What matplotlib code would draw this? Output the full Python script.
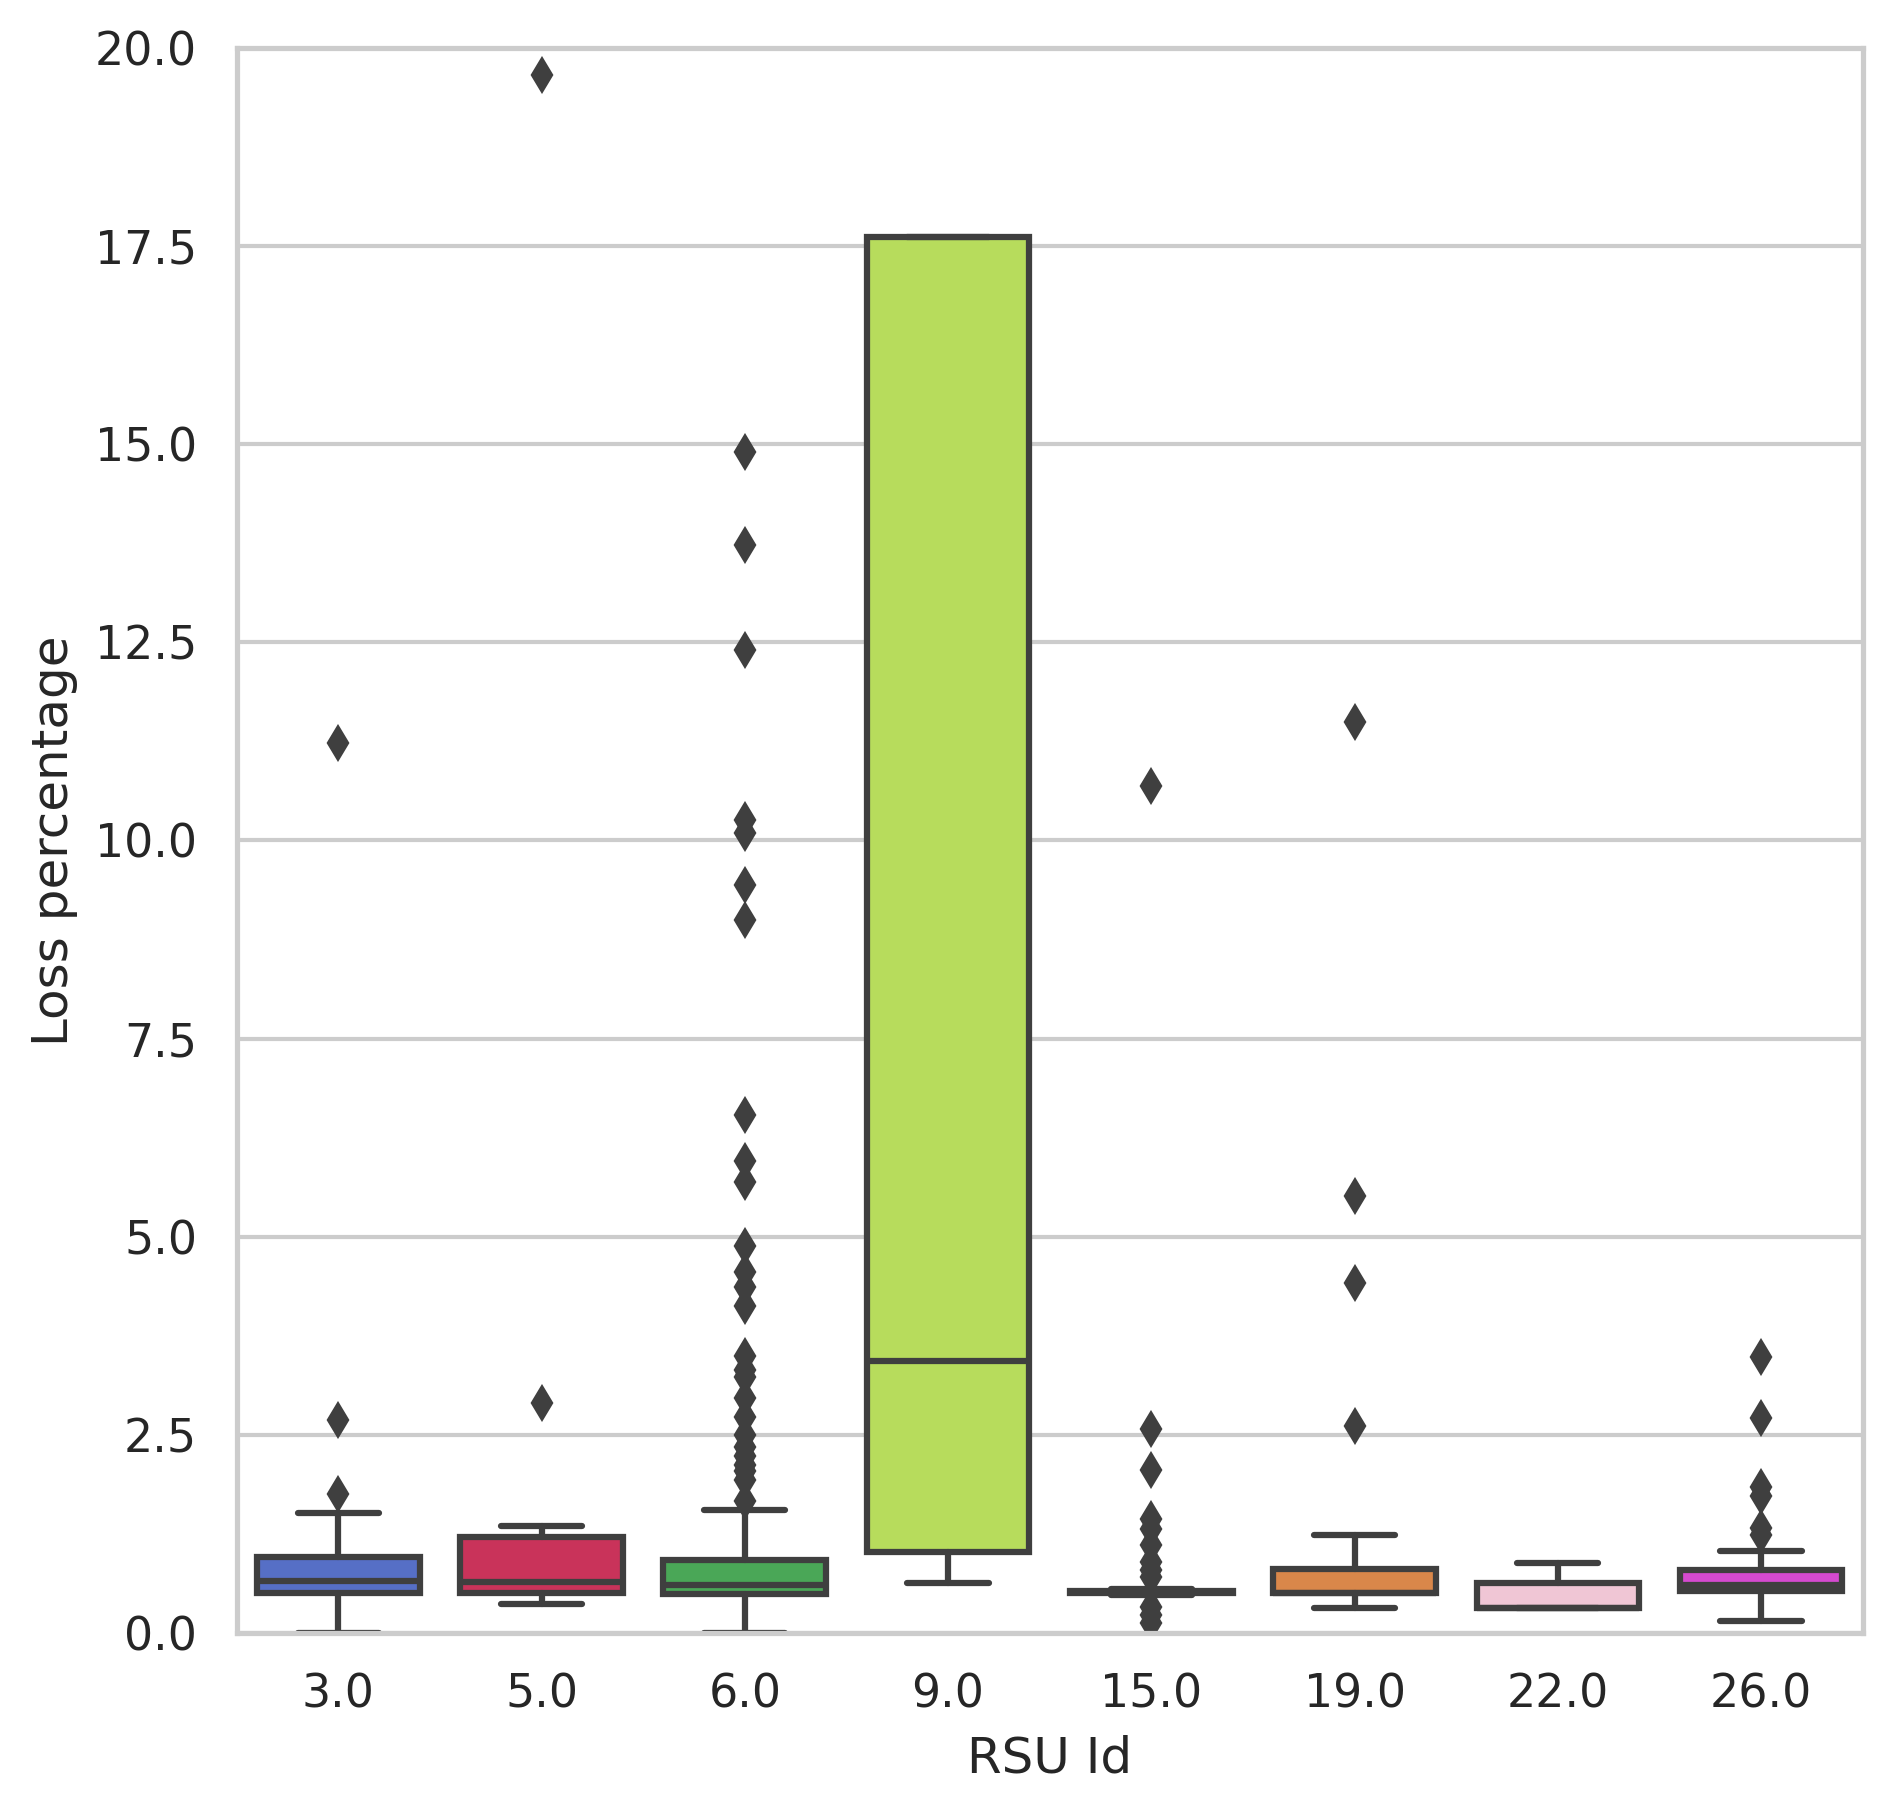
import matplotlib
matplotlib.use("Agg")
import matplotlib.pyplot as plt
import seaborn as sns

# Values.
rsu_ids = ["3.0", "5.0", "6.0", "9.0", "15.0", "19.0", "22.0", "26.0"]
q1 = [0.50, 0.50, 0.49, 1.02, 0.50, 0.50, 0.31, 0.53]
medians = [0.66, 0.64, 0.60, 3.43, 0.515, 0.51, 0.31, 0.61]
q3 = [0.96, 1.21, 0.915, 17.61, 0.525, 0.81, 0.635, 0.795]
whis_low = [0.0, 0.37, 0.0, 0.63, 0.48, 0.32, 0.31, 0.15]
whis_high = [1.52, 1.35, 1.55, 17.61, 0.55, 1.24, 0.88, 1.04]
fliers = [
    [1.75, 2.69, 11.23],
    [2.90, 19.66],
    [1.66, 1.93, 2.04, 2.12, 2.23, 2.35, 2.50, 2.73, 2.96, 3.23, 3.32, 3.49,
     4.13, 4.36, 4.55, 4.88, 5.69, 5.95, 6.54, 9.00, 9.44, 10.10, 10.26,
     12.41, 13.73, 14.90],
    [],
    [0.13, 0.23, 0.33, 0.71, 0.80, 0.90, 1.11, 1.31, 1.44, 2.06, 2.58, 10.69],
    [2.61, 4.41, 5.52, 11.49],
    [],
    [1.23, 1.33, 1.73, 1.84, 2.71, 3.48],
]
face_colors = ["#566fc6", "#c9335a", "#4aa757", "#b7dc5c",
               "#3f3f3f", "#d9874a", "#f0c6d5", "#d54ad0"]

sns.set_theme(style="whitegrid", context="notebook")

stats = []
for i in range(len(rsu_ids)):
    stats.append(dict(q1=q1[i], med=medians[i], q3=q3[i],
                      whislo=whis_low[i], whishi=whis_high[i],
                      fliers=fliers[i], label=rsu_ids[i]))

fig = plt.figure(figsize=(1893 / 300, 1812 / 300), dpi=300)
ax = fig.add_axes([0.125, 0.0988, 0.859, 0.8747])

gray = "#3f3f3f"
lw = 1.5
art = ax.bxp(stats, positions=range(len(rsu_ids)), widths=0.8,
             patch_artist=True,
             boxprops=dict(edgecolor=gray, linewidth=lw),
             medianprops=dict(color=gray, linewidth=lw),
             whiskerprops=dict(color=gray, linewidth=lw),
             capprops=dict(color=gray, linewidth=lw),
             flierprops=dict(marker="d", markersize=5, markerfacecolor=gray,
                             markeredgecolor=gray, linestyle="none"))
for patch, c in zip(art["boxes"], face_colors):
    patch.set_facecolor(c)

ax.set_xlim(-0.5, len(rsu_ids) - 0.5)
ax.set_ylim(0, 20)
ax.xaxis.grid(False)
ax.set_axisbelow(True)
ax.set_xlabel("RSU Id")
ax.set_ylabel("Loss percentage")

fig.savefig("out.png", dpi=300)
